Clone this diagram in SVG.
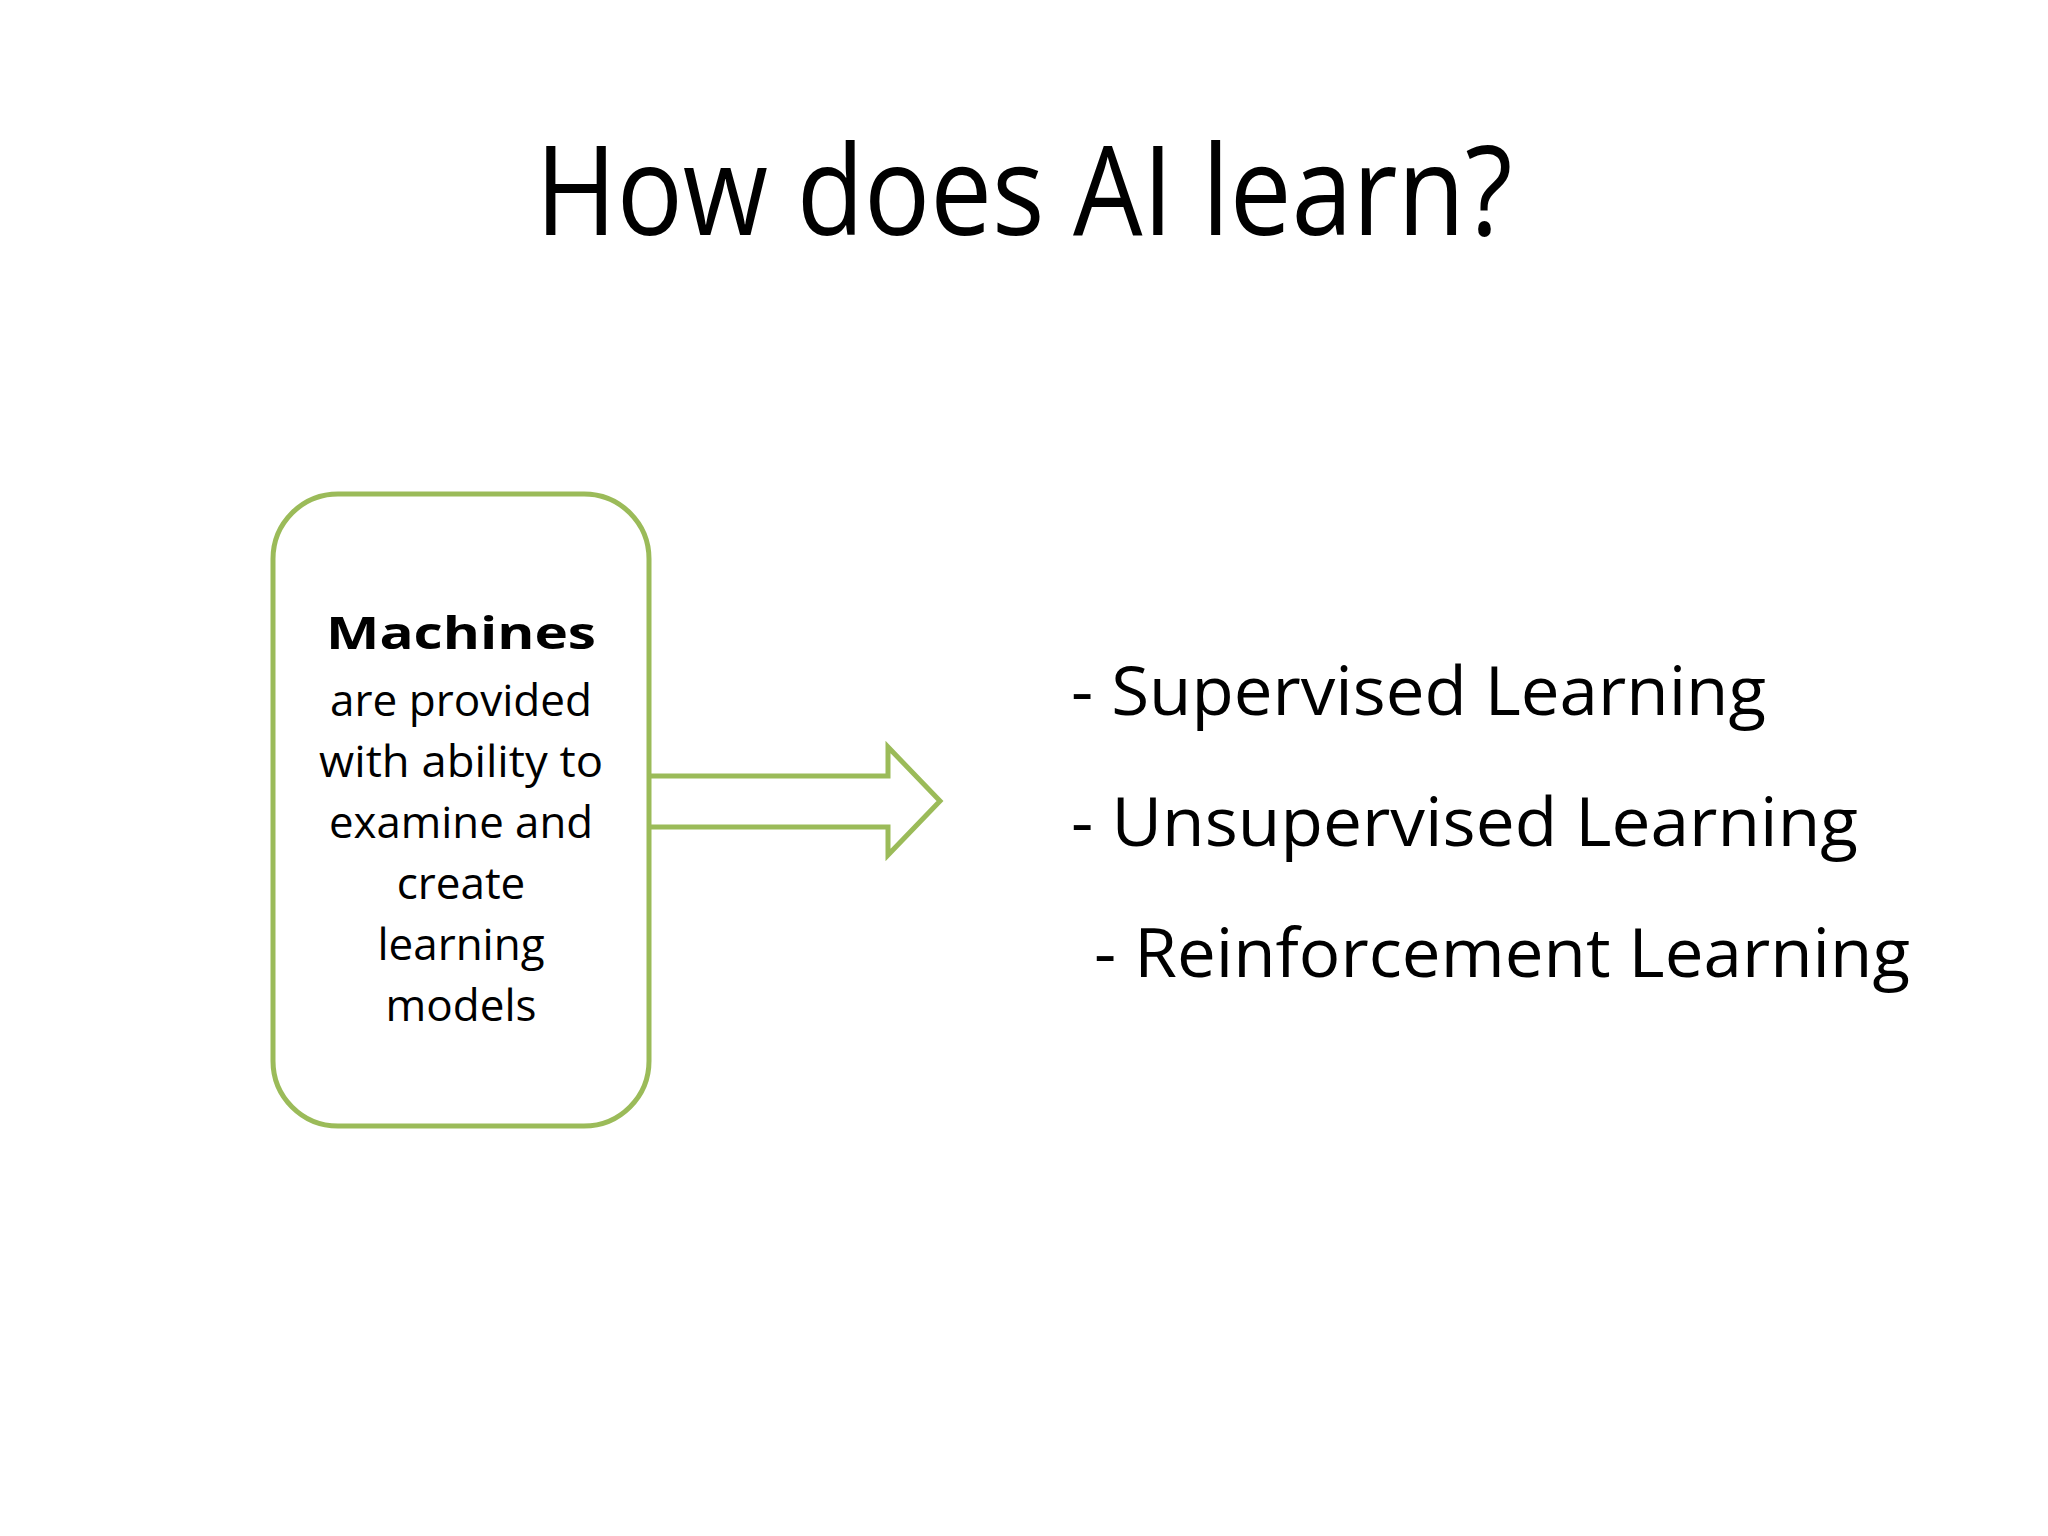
<svg xmlns="http://www.w3.org/2000/svg" width="2048" height="1536" viewBox="0 0 2048 1536">
<style>
text{font-family:"Open Sans","Liberation Sans",sans-serif;fill:#000}
.b{font-size:44px;text-anchor:middle}
.l{font-size:68px}
</style>
<rect width="2048" height="1536" fill="#fff"/>
<text x="1024" y="235" font-size="124" text-anchor="middle" textLength="977" lengthAdjust="spacingAndGlyphs">How does AI learn?</text>
<g id="machines">
<rect x="273" y="494" width="376" height="632" rx="65" fill="none" stroke="#9BBB59" stroke-width="5"/>
<text class="b" x="461" y="649" font-size="57" font-weight="bold" textLength="270" lengthAdjust="spacingAndGlyphs">Machines</text>
<text class="b" x="461" y="716" textLength="262" lengthAdjust="spacingAndGlyphs">are provided</text>
<text class="b" x="461" y="777" textLength="284" lengthAdjust="spacingAndGlyphs">with ability to</text>
<text class="b" x="461" y="838" textLength="264" lengthAdjust="spacingAndGlyphs">examine and</text>
<text class="b" x="461" y="899">create</text>
<text class="b" x="461" y="960">learning</text>
<text class="b" x="461" y="1021">models</text>
</g>
<g id="connectors">
<path d="M649 776 H888 V747 L940 801 L888 855 V827 H649" fill="none" stroke="#9BBB59" stroke-width="5"/>
</g>
<g id="list">
<text class="l" x="1071" y="715" textLength="695" lengthAdjust="spacingAndGlyphs">- Supervised Learning</text>
<text class="l" x="1071" y="846" textLength="787" lengthAdjust="spacingAndGlyphs">- Unsupervised Learning</text>
<text class="l" x="1094" y="977" textLength="816" lengthAdjust="spacingAndGlyphs">- Reinforcement Learning</text>
</g>
</svg>
